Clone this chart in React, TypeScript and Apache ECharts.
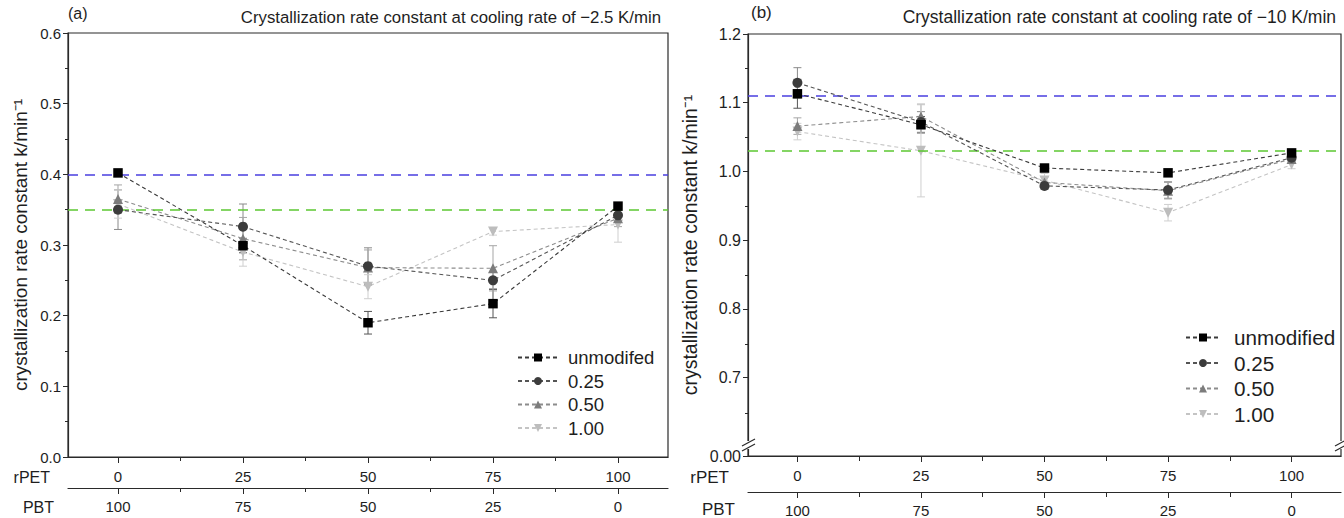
import React, { useEffect, useRef } from "react";
import * as echarts from "echarts";

// ---- data ----
const rPET = [0, 25, 50, 75, 100];
const PBT_TICKS = [0, 25, 50, 75, 100];
const X_MINOR = [12.5, 37.5, 62.5, 87.5];

// panel (a): cooling rate -2.5 K/min
const aUnmod = [0.402, 0.299, 0.19, 0.217, 0.355];
const aUnmodErr = [0.005, 0.01, 0.016, 0.02, 0.005];
const a025 = [0.35, 0.326, 0.27, 0.25, 0.342];
const a025Err = [0.028, 0.032, 0.026, 0.012, 0.01];
const a050 = [0.365, 0.309, 0.268, 0.267, 0.338];
const a050Err = [0.02, 0.03, 0.025, 0.032, 0.012];
const a100 = [0.358, 0.29, 0.241, 0.319, 0.329];
const a100Err = [0.02, 0.02, 0.017, 0.005, 0.025];
const aRefBlue = 0.401;
const aRefGreen = 0.353;

// panel (b): cooling rate -10 K/min
const bUnmod = [1.113, 1.068, 1.005, 0.998, 1.027];
const bUnmodErr = [0.021, 0.012, 0.005, 0.005, 0.005];
const b025 = [1.129, 1.072, 0.979, 0.973, 1.02];
const b025Err = [0.022, 0.015, 0.005, 0.012, 0.005];
const b050 = [1.066, 1.08, 0.984, 0.972, 1.018];
const b050Err = [0.012, 0.018, 0.008, 0.012, 0.006];
const b100 = [1.058, 1.03, 0.987, 0.94, 1.01];
const b100Err = [0.012, 0.067, 0.01, 0.012, 0.006];
const bRefBlue = 1.112;
const bRefGreen = 1.026;

const legendA = ["unmodifed", "0.25", "0.50", "1.00"];
const legendB = ["unmodified", "0.25", "0.50", "1.00"];

const B_MIN = 0.586;
const bLabels = [B_MIN, 0.7, 0.8, 0.9, 1.0, 1.1, 1.2];
const bMinor = [0.65, 0.75, 0.85, 0.95, 1.05, 1.15];

const FONT = "Liberation Sans, Arial, sans-serif";
const AXIS_COLOR = "#2a2a2a";
const TXT = "#1e1e1e";

const styles = [
  { symbol: "rect", rotate: 0, size: 9.5, fill: "#000000", line: "#3a3a3a", err: "#555555" },
  { symbol: "circle", rotate: 0, size: 10, fill: "#3c3c3c", line: "#555555", err: "#8a8a8a" },
  { symbol: "triangle", rotate: 0, size: 10, fill: "#7c7c7c", line: "#8c8c8c", err: "#a5a5a5" },
  { symbol: "triangle", rotate: 180, size: 10, fill: "#bdbdbd", line: "#c4c4c4", err: "#cfcfcf" },
];

function pairs(xs: number[], ys: number[]) {
  return xs.map((x, i) => [x, ys[i]]);
}
function triples(xs: number[], ys: number[], es: number[]) {
  return xs.map((x, i) => [x, ys[i], es[i]]);
}

function errSeries(xAxisIndex: number, yAxisIndex: number, data: number[][], color: string) {
  return {
    type: "custom",
    xAxisIndex,
    yAxisIndex,
    z: 1,
    silent: true,
    encode: { x: 0, y: 1 },
    data,
    renderItem: (params: any, api: any) => {
      const x = api.value(0);
      const y = api.value(1);
      const e = api.value(2);
      const t = api.coord([x, y + e]);
      const b = api.coord([x, y - e]);
      const cw = 4;
      const st = { stroke: color, lineWidth: 1 };
      return {
        type: "group",
        children: [
          { type: "line", shape: { x1: t[0], y1: t[1], x2: b[0], y2: b[1] }, style: st },
          { type: "line", shape: { x1: t[0] - cw, y1: t[1], x2: t[0] + cw, y2: t[1] }, style: st },
          { type: "line", shape: { x1: b[0] - cw, y1: b[1], x2: b[0] + cw, y2: b[1] }, style: st },
        ],
      };
    },
  };
}

function lineSeries(name: string, xAxisIndex: number, yAxisIndex: number, ys: number[], k: number, refs?: number[]) {
  const s = styles[k];
  const out: any = {
    type: "line",
    name,
    xAxisIndex,
    yAxisIndex,
    data: pairs(rPET, ys),
    symbol: s.symbol,
    symbolSize: s.size,
    symbolRotate: s.rotate,
    z: 3 + (3 - k),
    itemStyle: { color: s.fill, borderWidth: 0 },
    lineStyle: { color: s.line, width: 1.1, type: [4, 3] },
  };
  if (refs) {
    out.markLine = {
      silent: true,
      symbol: "none",
      label: { show: false },
      data: [
        { yAxis: refs[0], lineStyle: { color: "#4a3fe0", width: 1.6, type: [10, 7] } },
        { yAxis: refs[1], lineStyle: { color: "#5cc832", width: 1.6, type: [10, 7] } },
      ],
    };
  }
  return out;
}

function xMain(grid: number, labelSize: number) {
  return {
    type: "value",
    gridIndex: grid,
    min: -10,
    max: 110,
    position: "bottom",
    axisLine: { show: true, onZero: false, lineStyle: { color: AXIS_COLOR, width: 1.2 } },
    axisTick: { show: true, length: 6, customValues: rPET, lineStyle: { color: AXIS_COLOR } },
    axisLabel: { customValues: rPET, margin: 12, fontSize: labelSize, color: TXT, fontFamily: FONT },
    splitLine: { show: false },
  };
}
function xPBT(grid: number, offset: number, labelSize: number) {
  return {
    type: "value",
    gridIndex: grid,
    min: -10,
    max: 110,
    inverse: true,
    position: "bottom",
    offset,
    axisLine: { show: true, onZero: false, lineStyle: { color: AXIS_COLOR, width: 1.2 } },
    axisTick: { show: true, length: 6, customValues: PBT_TICKS, lineStyle: { color: AXIS_COLOR } },
    axisLabel: { customValues: PBT_TICKS, margin: 11, fontSize: labelSize, color: TXT, fontFamily: FONT },
    splitLine: { show: false },
  };
}
function xMinor(grid: number, offset: number) {
  return {
    type: "value",
    gridIndex: grid,
    min: -10,
    max: 110,
    position: "bottom",
    offset,
    axisLine: { show: false, onZero: false },
    axisTick: { show: true, length: 4, customValues: X_MINOR, lineStyle: { color: AXIS_COLOR } },
    axisLabel: { show: false },
    splitLine: { show: false },
  };
}

const GRID_A = { left: 68, top: 33, width: 600, height: 424 };
const GRID_B = { left: 748, top: 34, width: 593, height: 423 };

export default function App() {
  const ref = useRef<HTMLDivElement>(null);
  useEffect(() => {
    if (!ref.current) return;
    const chart = echarts.init(ref.current, null, { renderer: "svg" });

    const aSets = [aUnmod, a025, a050, a100];
    const aErrs = [aUnmodErr, a025Err, a050Err, a100Err];
    const bSets = [bUnmod, b025, b050, b100];
    const bErrs = [bUnmodErr, b025Err, b050Err, b100Err];

    const series: any[] = [];
    aSets.forEach((ys, k) => series.push(errSeries(0, 0, triples(rPET, ys, aErrs[k]), styles[k].err)));
    bSets.forEach((ys, k) => series.push(errSeries(2, 1, triples(rPET, ys, bErrs[k]), styles[k].err)));
    aSets.forEach((ys, k) => series.push(lineSeries(legendA[k], 0, 0, ys, k, k === 0 ? [aRefBlue, aRefGreen] : undefined)));
    bSets.forEach((ys, k) => series.push(lineSeries(legendB[k] + (k > 0 ? " " : ""), 2, 1, ys, k, k === 0 ? [bRefBlue, bRefGreen] : undefined)));

    const option: any = {
      animation: false,
      backgroundColor: "#ffffff",
      textStyle: { fontFamily: FONT },
      grid: [
        { ...GRID_A, show: true, borderColor: AXIS_COLOR, borderWidth: 1.2, backgroundColor: "transparent" },
        { ...GRID_B, show: true, borderColor: AXIS_COLOR, borderWidth: 1.2, backgroundColor: "transparent" },
        { ...GRID_A, show: false },
        { ...GRID_B, show: false },
      ],
      title: [
        {
          text: "Crystallization rate constant at cooling rate of \u22122.5 K/min",
          right: 1344 - 666,
          top: 4,
          textStyle: { fontSize: 16.8, fontWeight: "normal", color: TXT, fontFamily: FONT },
        },
        {
          text: "Crystallization rate constant at cooling rate of \u221210 K/min",
          right: 3,
          top: 3,
          textStyle: { fontSize: 17.5, fontWeight: "normal", color: TXT, fontFamily: FONT },
        },
      ],
      legend: [
        {
          orient: "vertical",
          left: 512,
          top: 343,
          data: legendA,
          itemWidth: 40,
          itemHeight: 10,
          itemGap: 4.5,
          textStyle: { fontSize: 18.5, color: TXT, fontFamily: FONT, lineHeight: 19, padding: [0, 0, 0, 5] },
        },
        {
          orient: "vertical",
          left: 1180,
          top: 322,
          data: legendB.map((n, k) => n + (k > 0 ? " " : "")),
          formatter: (n: string) => n.trim(),
          itemWidth: 34,
          itemHeight: 10,
          itemGap: 4.5,
          textStyle: { fontSize: 20.7, color: TXT, fontFamily: FONT, lineHeight: 21, padding: [0, 0, 0, 9] },
        },
      ],
      xAxis: [
        xMain(0, 15),
        xPBT(0, 31, 15),
        xMain(1, 15),
        xPBT(1, 36, 15),
        xMinor(2, 0),
        xMinor(2, 31),
        xMinor(3, 0),
        xMinor(3, 36),
      ],
      yAxis: [
        {
          type: "value",
          gridIndex: 0,
          position: "left",
          min: 0,
          max: 0.6,
          interval: 0.1,
          axisLine: { show: true, onZero: false, lineStyle: { color: AXIS_COLOR, width: 1.2 } },
          axisTick: { show: true, length: 5, lineStyle: { color: AXIS_COLOR } },
          minorTick: { show: true, splitNumber: 2, length: 3, lineStyle: { color: AXIS_COLOR } },
          axisLabel: { fontSize: 15, color: TXT, margin: 7, fontFamily: FONT, formatter: (v: number) => v.toFixed(1) },
          splitLine: { show: false },
          name: "crystallization rate constant k/min\u207B\u00B9",
          nameLocation: "middle",
          nameGap: 38,
          nameTextStyle: { fontSize: 19, color: TXT, fontFamily: FONT },
        },
        {
          type: "value",
          gridIndex: 1,
          position: "left",
          min: B_MIN,
          max: 1.2,
          axisLine: { show: true, onZero: false, lineStyle: { color: AXIS_COLOR, width: 1.2 } },
          axisTick: { show: true, length: 5, customValues: bLabels, lineStyle: { color: AXIS_COLOR } },
          axisLabel: {
            customValues: bLabels,
            fontSize: 16,
            color: TXT,
            margin: 7,
            fontFamily: FONT,
            formatter: (v: number) => (v < 0.65 ? "0.00" : v.toFixed(1)),
          },
          splitLine: { show: false },
          name: "crystallization rate constant k/min\u207B\u00B9",
          nameLocation: "middle",
          nameGap: 48,
          nameTextStyle: { fontSize: 19.5, color: TXT, fontFamily: FONT },
        },
        {
          type: "value",
          gridIndex: 2,
          show: false,
          min: 0,
          max: 0.6,
        },
        {
          type: "value",
          gridIndex: 3,
          position: "left",
          min: B_MIN,
          max: 1.2,
          axisLine: { show: false, onZero: false },
          axisTick: { show: true, length: 3, customValues: bMinor, lineStyle: { color: AXIS_COLOR } },
          axisLabel: { show: false },
          splitLine: { show: false },
        },
      ],
      graphic: [
        { type: "text", left: 68, top: 5, style: { text: "(a)", fontSize: 16, fill: TXT, fontFamily: FONT } },
        { type: "text", left: 751, top: 4, style: { text: "(b)", fontSize: 17, fill: TXT, fontFamily: FONT } },
        { type: "text", x: 50, y: 477, style: { text: "rPET", fontSize: 16, fill: TXT, fontFamily: FONT, align: "right", verticalAlign: "middle" } },
        { type: "text", x: 54, y: 507, style: { text: "PBT", fontSize: 16, fill: TXT, fontFamily: FONT, align: "right", verticalAlign: "middle" } },
        { type: "text", x: 729, y: 477, style: { text: "rPET", fontSize: 17, fill: TXT, fontFamily: FONT, align: "right", verticalAlign: "middle" } },
        { type: "text", x: 735, y: 509, style: { text: "PBT", fontSize: 17, fill: TXT, fontFamily: FONT, align: "right", verticalAlign: "middle" } },
        // axis breaks in panel (b)
        { type: "rect", shape: { x: 744, y: 441, width: 9, height: 8 }, style: { fill: "#fff" }, z: 100 },
        { type: "line", shape: { x1: 742, y1: 446, x2: 755, y2: 439 }, style: { stroke: AXIS_COLOR, lineWidth: 1.2 }, z: 101 },
        { type: "line", shape: { x1: 742, y1: 451, x2: 755, y2: 444 }, style: { stroke: AXIS_COLOR, lineWidth: 1.2 }, z: 101 },
        { type: "rect", shape: { x: 1337, y: 441, width: 7, height: 8 }, style: { fill: "#fff" }, z: 100 },
        { type: "line", shape: { x1: 1335, y1: 446, x2: 1348, y2: 439 }, style: { stroke: AXIS_COLOR, lineWidth: 1.2 }, z: 101 },
        { type: "line", shape: { x1: 1335, y1: 451, x2: 1348, y2: 444 }, style: { stroke: AXIS_COLOR, lineWidth: 1.2 }, z: 101 },
      ],
      series,
    };
    chart.setOption(option);
    return () => chart.dispose();
  }, []);
  return <div ref={ref} style={{ position: "fixed", left: 0, top: 0, width: 1344, height: 518 }} />;
}
